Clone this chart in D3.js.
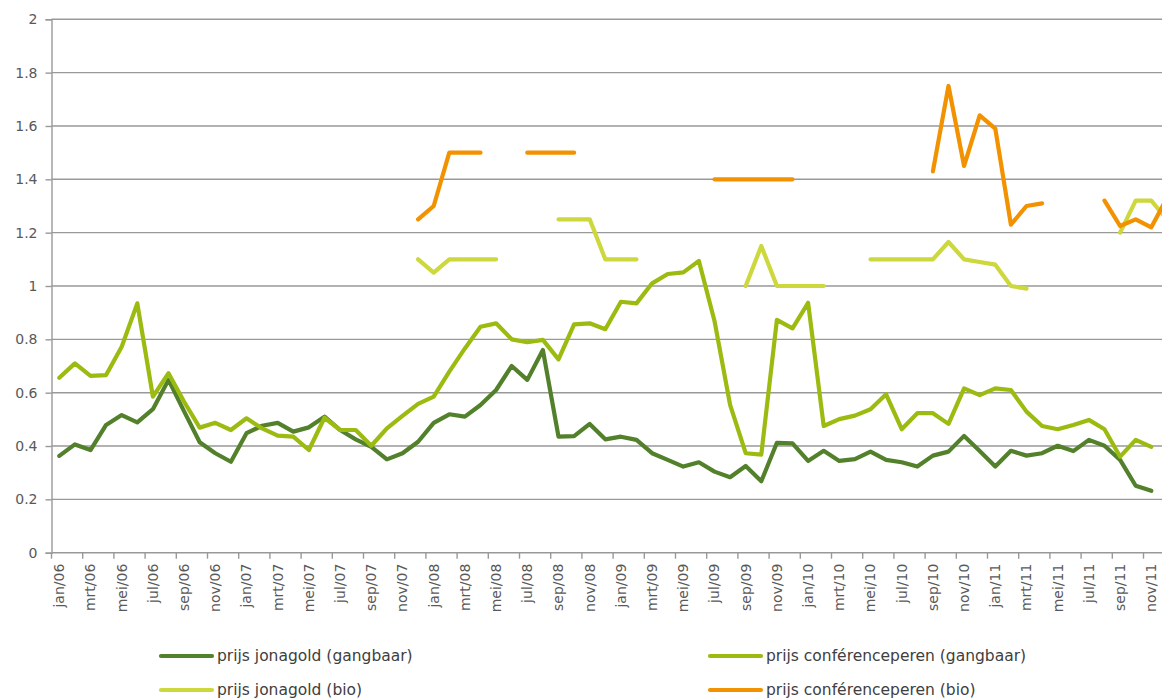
<!DOCTYPE html>
<html>
<head>
<meta charset="utf-8">
<script src="https://cdn.jsdelivr.net/npm/d3@7"></script>
<style>
  body { margin: 0; background: #fff; }
  svg { display: block; font-family: "DejaVu Sans", Verdana, sans-serif; }
</style>
</head>
<body>
<script>
// month names and years used for the category axis
const monthNames = ['jan', 'feb', 'mrt', 'apr', 'mei', 'jun', 'jul', 'aug', 'sep', 'okt', 'nov', 'dec'];
const years = ['06', '07', '08', '09', '10', '11'];
const months = [];
years.forEach(y => monthNames.forEach(m => months.push(m + '/' + y)));

const yTicks = [0, 0.2, 0.4, 0.6, 0.8, 1, 1.2, 1.4, 1.6, 1.8, 2];

const seriesNames = [
  'prijs jonagold (gangbaar)',
  'prijs conférenceperen (gangbaar)',
  'prijs jonagold (bio)',
  'prijs conférenceperen (bio)'
];

const jonagoldGangbaar = [
  0.363, 0.406, 0.385, 0.479, 0.516, 0.489, 0.538, 0.648, 0.53, 0.414, 0.373, 0.341,
  0.448, 0.476, 0.487, 0.454, 0.470, 0.510, 0.460, 0.425, 0.397, 0.350, 0.373, 0.416,
  0.487, 0.519, 0.510, 0.554, 0.610, 0.700, 0.648, 0.760, 0.435, 0.437, 0.483, 0.425,
  0.435, 0.423, 0.373, 0.348, 0.323, 0.339, 0.304, 0.283, 0.325, 0.268, 0.412, 0.410,
  0.344, 0.382, 0.344, 0.351, 0.379, 0.348, 0.339, 0.323, 0.364, 0.379, 0.438, 0.381,
  0.323, 0.382, 0.364, 0.373, 0.401, 0.381, 0.423, 0.401, 0.348, 0.251, 0.232, null
];

const conferenceGangbaar = [
  0.656, 0.710, 0.663, 0.666, 0.772, 0.935, 0.585, 0.673, 0.566, 0.469, 0.487, 0.460,
  0.504, 0.466, 0.439, 0.435, 0.385, 0.506, 0.460, 0.460, 0.401, 0.466, 0.513, 0.558,
  0.585, 0.679, 0.766, 0.847, 0.860, 0.800, 0.789, 0.798, 0.725, 0.856, 0.860, 0.838,
  0.941, 0.935, 1.010, 1.045, 1.051, 1.094, 0.869, 0.554, 0.373, 0.368, 0.873, 0.841,
  0.937, 0.475, 0.501, 0.514, 0.538, 0.594, 0.463, 0.523, 0.523, 0.483, 0.616, 0.591,
  0.616, 0.610, 0.529, 0.475, 0.463, 0.479, 0.498, 0.463, 0.360, 0.423, 0.397, null
];

const jonagoldBio = [
  null, null, null, null, null, null, null, null, null, null, null, null,
  null, null, null, null, null, null, null, null, null, null, null, 1.10,
  1.05, 1.10, 1.10, 1.10, 1.10, null, null, null, 1.25, 1.25, 1.25, 1.10,
  1.10, 1.10, null, null, null, null, null, null, 1.0, 1.15, 1.0, 1.0,
  1.0, 1.0, null, null, 1.10, 1.10, 1.10, 1.10, 1.10, 1.165, 1.10, 1.09,
  1.08, 1.0, 0.99, null, null, null, null, null, 1.20, 1.32, 1.32, 1.25
];

const conferenceBio = [
  null, null, null, null, null, null, null, null, null, null, null, null,
  null, null, null, null, null, null, null, null, null, null, null, 1.25,
  1.30, 1.50, 1.50, 1.50, null, null, 1.50, 1.50, 1.50, 1.50, null, null,
  null, null, null, null, null, null, 1.40, 1.40, 1.40, 1.40, 1.40, 1.40,
  null, null, null, null, null, null, null, null, 1.43, 1.75, 1.45, 1.64,
  1.59, 1.23, 1.30, 1.31, null, null, null, 1.32, 1.225, 1.25, 1.22, 1.33
];

const seriesValues = [jonagoldGangbaar, conferenceGangbaar, jonagoldBio, conferenceBio];
const colors = ['#52802b', '#9bbb11', '#ccd83c', '#f39200'];

const width = 1162;
const height = 698;
const left = 51.5;
const step = 15.6;

const svg = d3.select('body')
  .append('svg')
  .attr('width', width)
  .attr('height', height);

const x = d3.scaleBand()
  .domain(months)
  .range([left, left + step * months.length])
  .padding(0);

const y = d3.scaleLinear()
  .domain([0, 2])
  .range([552.7, 19.3]);

// gridlines
svg.append('g')
  .selectAll('line')
  .data(yTicks.filter(d => d > 0))
  .enter()
  .append('line')
  .attr('x1', left)
  .attr('x2', width)
  .attr('y1', d => y(d))
  .attr('y2', d => y(d))
  .attr('stroke', '#999')
  .attr('stroke-width', 1.4);

// y axis
const yAxis = svg.append('g')
  .attr('transform', `translate(${left},0)`)
  .call(d3.axisLeft(y).tickValues(yTicks).tickSize(6).tickPadding(8).tickFormat(d => d));
yAxis.select('.domain').attr('stroke', '#999').attr('stroke-width', 1.4);
yAxis.selectAll('.tick line').attr('stroke', '#999').attr('stroke-width', 1.4);
yAxis.selectAll('.tick text')
  .attr('fill', '#595959')
  .style('font-size', '14px')
  .style('font-family', '"DejaVu Sans", Verdana, sans-serif');

// x axis: ticks every second month at category boundaries
const xAxisG = svg.append('g');
xAxisG.append('line')
  .attr('x1', left)
  .attr('x2', width)
  .attr('y1', y(0))
  .attr('y2', y(0))
  .attr('stroke', '#999')
  .attr('stroke-width', 1.4);

xAxisG.selectAll('.xtick')
  .data(months.filter((d, i) => i % 2 === 0))
  .enter()
  .append('line')
  .attr('class', 'xtick')
  .attr('x1', d => x(d))
  .attr('x2', d => x(d))
  .attr('y1', y(0))
  .attr('y2', y(0) + 6)
  .attr('stroke', '#999')
  .attr('stroke-width', 1.4);

xAxisG.selectAll('.xlabel')
  .data(months.filter((d, i) => i % 2 === 0))
  .enter()
  .append('text')
  .attr('class', 'xlabel')
  .attr('transform', d => `translate(${x(d) + x.bandwidth() / 2},${y(0) + 11}) rotate(-90)`)
  .attr('text-anchor', 'end')
  .attr('dy', '0.35em')
  .attr('fill', '#595959')
  .style('font-size', '14px')
  .text(d => d);

// lines
const line = d3.line()
  .defined(d => d.v != null)
  .x(d => x(d.m) + x.bandwidth() / 2)
  .y(d => y(d.v));

seriesValues.forEach((vals, k) => {
  svg.append('path')
    .datum(vals.map((v, i) => ({ m: months[i], v: v })))
    .attr('fill', 'none')
    .attr('stroke', colors[k])
    .attr('stroke-width', 4.2)
    .attr('stroke-linejoin', 'round')
    .attr('stroke-linecap', 'round')
    .attr('d', line);
});

// legend
const legendPos = [[159, 656], [708, 656], [159, 690], [708, 690]];
const legend = svg.selectAll('.legend')
  .data(seriesNames)
  .enter()
  .append('g')
  .attr('class', 'legend')
  .attr('transform', (d, i) => `translate(${legendPos[i][0]},${legendPos[i][1]})`);

legend.append('line')
  .attr('x1', 2)
  .attr('x2', 53)
  .attr('stroke', (d, i) => colors[i])
  .attr('stroke-width', 4.2)
  .attr('stroke-linecap', 'round');

legend.append('text')
  .attr('x', 58)
  .attr('dy', '0.35em')
  .attr('fill', '#404040')
  .style('font-size', '15.5px')
  .text(d => d);
</script>
</body>
</html>
